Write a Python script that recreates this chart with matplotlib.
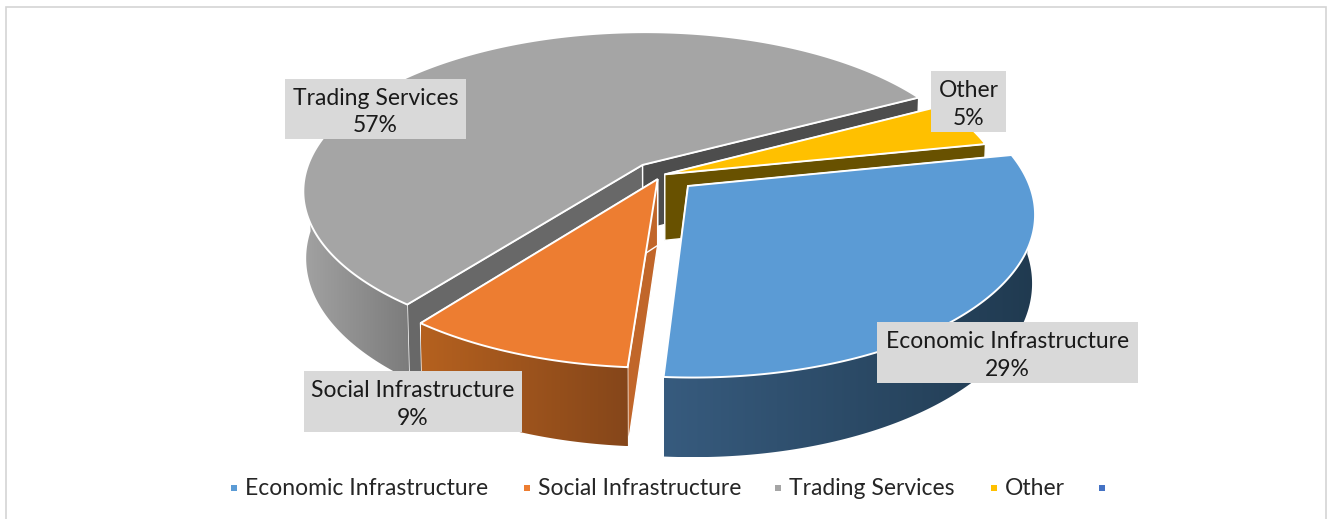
import numpy as np
import matplotlib
matplotlib.use('Agg')
import matplotlib.pyplot as plt
from matplotlib.colors import LinearSegmentedColormap
from matplotlib.patches import Polygon, Rectangle

plt.rcParams['font.family'] = ['Lato', 'DejaVu Sans']

categories = ['Economic Infrastructure', 'Social Infrastructure', 'Trading Services', 'Other', '']
shares = [29.35, 9.25, 56.8, 4.6]
colors = ['#5b9bd5', '#ed7d31', '#a5a5a5', '#ffc000', '#4472c4']

# look of the fake 3d pie
explode = [0.105, 0.028, 0.085, 0.012]
wall_start = ['#2a4a66', '#c1662a', '#686868', '#685100']
wall_end = ['#2a4a66', '#c1662a', '#4d4d4d', '#685100']
side_left = ['#375b7e', '#b5611f', '#a2a2a2', '#7f6000']
side_right = ['#203a50', '#85461a', '#7c7c7c', '#7f6000']
start_angle = -11.5
cx, cy = 661, 175
A, B, k = 338, 157, 0.16
depth = 66

fig = plt.figure(figsize=(13.27, 5.19), dpi=100)
ax = fig.add_axes([0, 0, 1, 1])
ax.axis('off')

ax.add_patch(Rectangle((6, 7), 1319.5, 520, fc='white', ec='#d4d4d4', lw=1.2))


def project(X, Y, z=0.0):
    w = 1 - k * Y
    x = cx + A * X / w
    y = cy + B * Y / w
    # the lower rim is a little narrower and pushed down
    x = cx + (x - cx) * (1 - 0.008 * z)
    return x, y + z * depth / w


def slice_points(i, t, z=0.0):
    mid = np.radians(angles[i] + angles[i + 1]) / 2
    X = explode[i] * np.cos(mid) + np.cos(t)
    Y = explode[i] * np.sin(mid) + np.sin(t)
    return project(X, Y, z)


def apex(i, z=0.0):
    mid = np.radians(angles[i] + angles[i + 1]) / 2
    return project(explode[i] * np.cos(mid), explode[i] * np.sin(mid), z)


angles = start_angle + 3.6 * np.concatenate([[0], np.cumsum(shares)])

# back to front: gray, yellow, orange, blue
for i in [2, 3, 1, 0]:
    t = np.radians(np.linspace(angles[i], angles[i + 1], 240))
    xt, yt = slice_points(i, t)
    xb, yb = slice_points(i, t, 1.0)
    ax0, ay0 = apex(i)
    bx0, by0 = apex(i, 1.0)

    # two straight walls
    for j, wc in [(0, wall_start[i]), (-1, wall_end[i])]:
        ax.add_patch(Polygon([(ax0, ay0), (xt[j], yt[j]), (xb[j], yb[j]), (bx0, by0)],
                             fc=wc, ec='white', lw=1.0))

    # outer rim with left to right shading, only the part facing the viewer
    front = np.sin(t) > 0
    if front.any():
        rim = np.vstack([np.column_stack([xt[front], yt[front]]),
                         np.column_stack([xb[front], yb[front]])[::-1]])
        rim_patch = Polygon(rim, fc='none', ec='none')
        ax.add_patch(rim_patch)
        xs = np.linspace(rim[:, 0].min(), rim[:, 0].max(), 256)
        shade = np.linspace(0, 1, 256).reshape(1, -1)
        cmap = LinearSegmentedColormap.from_list('rim%d' % i, [side_left[i], side_right[i]])
        ax.imshow(shade, cmap=cmap, vmin=0, vmax=1, aspect='auto', interpolation='bilinear',
                  extent=(xs[0], xs[-1], rim[:, 1].max(), rim[:, 1].min()), clip_path=rim_patch, zorder=1)

    # top face
    top = np.vstack([[ax0, ay0], np.column_stack([xt, yt])])
    ax.add_patch(Polygon(top, fc=colors[i], ec='white', lw=1.4, joinstyle='miter'))

ax.set_xlim(0, 1327)
ax.set_ylim(519, 0)

# data labels
label_boxes = [(877, 322, 261, 61), (304, 371, 218, 61), (285, 79, 181, 60), (931, 71, 75, 61)]
for i, (bx, by, bw, bh) in enumerate(label_boxes):
    ax.add_patch(Rectangle((bx, by), bw, bh, fc='#d9d9d9', ec='none', zorder=3))
    ax.text(bx + bw / 2, by + bh / 2 + 3, '%s\n%.0f%%' % (categories[i], shares[i]), ha='center',
            va='center', fontsize=16.5, color='#1a1a1a', linespacing=1.38, zorder=4)

# legend
legend_marks = [234, 527, 778, 994, 1102]
for i, mx in enumerate(legend_marks):
    ax.plot(mx, 487.5, 's', ms=4.3, color=colors[i], mew=0, zorder=4)
    ax.text(mx + 11, 495, categories[i], ha='left', va='baseline', fontsize=16.5, color='#262626', zorder=4)

fig.savefig('out.png', dpi=100)
